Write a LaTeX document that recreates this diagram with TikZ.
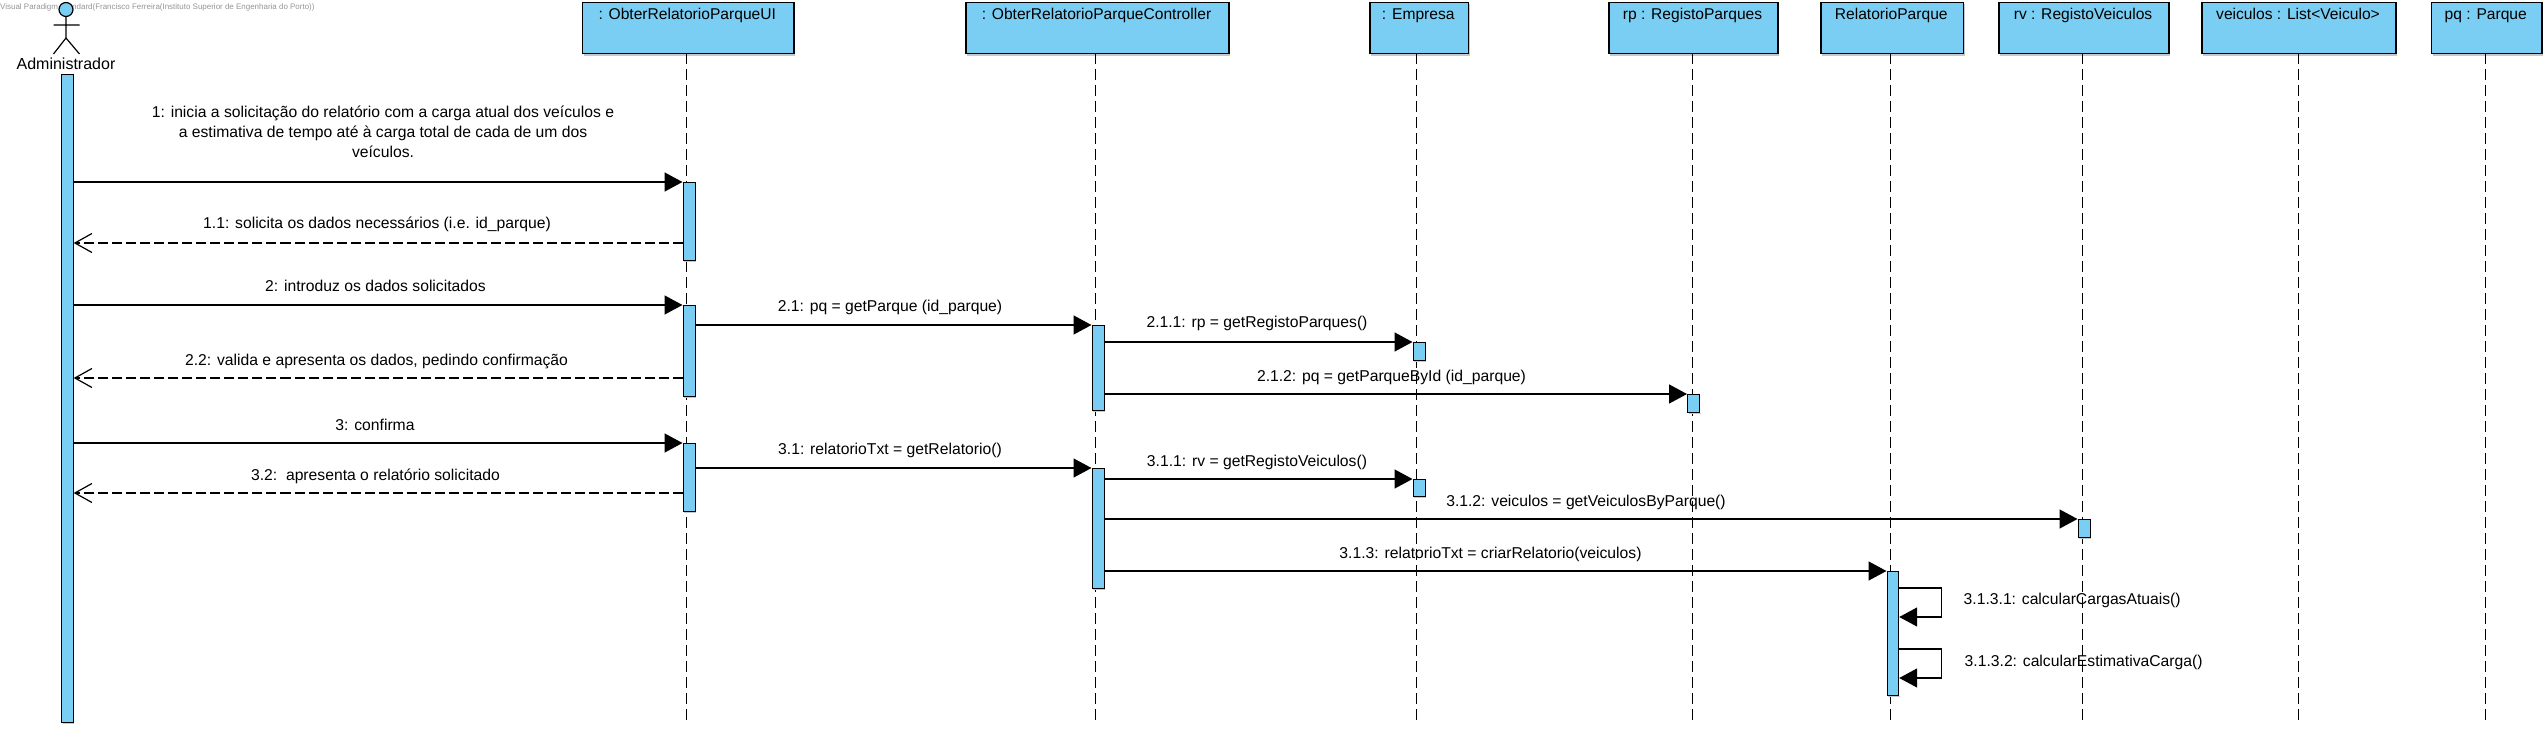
\documentclass[tikz,border=0pt]{standalone}
\usepackage{fontspec}
\setmainfont{Liberation Sans}
\usetikzlibrary{arrows.meta}
\definecolor{vpblue}{HTML}{7ACEF4}
\definecolor{vpshadow}{HTML}{C8C8C8}
\tikzset{
  objbox/.style={draw=black,line width=1.5bp,fill=vpblue,inner sep=0pt,anchor=north west},
  objtxt/.style={font=\fontsize{15.6bp}{18bp}\selectfont,anchor=base,inner sep=0pt},
  lifeline/.style={draw=black,line width=1.5bp,dash pattern=on 11bp off 5bp},
  activ/.style={draw=black,line width=1.2bp,fill=vpblue,inner sep=0pt,anchor=north west},
  call/.style={draw=black,line width=1.5bp,-{Triangle[length=18bp,width=19bp,fill=black]}},
  reply/.style={draw=black,line width=1.5bp,dash pattern=on 10bp off 4bp,-{Straight Barb[length=17bp,width=19bp,line width=1.2bp]}},
  msg/.style={font=\fontsize{15.7bp}{20bp}\selectfont,inner sep=0pt,align=center,anchor=base},
  shadowline/.style={draw=vpshadow,line width=1.2bp}
}
\newcommand{\objbx}[5]{% name, x1, x2, lifeline x, label
  \draw[shadowline] (#2+2,55) -- (#3+1.5,55) -- (#3+1.5,4);
  \node[objbox,minimum width=#3bp-#2bp,minimum height=51bp] (#1) at (#2,2) {};
  \node[objtxt] (#1t) at ({(#2+#3)/2},19.5) {#5};
  \coordinate (#1top) at (#4,53);
  \coordinate (#1bot) at (#4,724);
  \draw[lifeline] (#1top) -- (#1bot);
}
\newcommand{\actv}[5]{% name, x1, x2, y1, y2
  \draw[vpshadow,line width=1bp] (#2+1.5,#5+1.5) -- (#3+1.5,#5+1.5);
  \node[activ,minimum width=#3bp-#2bp,minimum height=#5bp-#4bp] (#1) at (#2,#4) {};
}
\begin{document}
\begin{tikzpicture}[x=1bp,y=-1bp]
\useasboundingbox (0,0) rectangle (2547,730);
\node[font=\fontsize{8}{9}\selectfont,text=black!42,inner sep=0pt,anchor=west] (wm) at (0,7.5) {Visual Paradigm Standard(Francisco Ferreira(Instituto Superior de Engenharia do Porto))};
% actor
\coordinate (hip) at (66,38);
\node[circle,draw=black,line width=1.2bp,fill=vpblue,minimum size=14bp,inner sep=0pt] (head) at (66,9.5) {};
\coordinate (armL) at (53.5,25); \coordinate (armR) at (79.5,25);
\coordinate (legL) at (53.5,54); \coordinate (legR) at (79.5,54);
\draw[line width=1.2bp] (head.south) -- (hip) (armL) -- (armR) (legL) -- (hip) -- (legR);
\node[font=\fontsize{16bp}{18bp}\selectfont,inner sep=0pt,anchor=base] (admin) at (66,69.5) {Administrador};
% lifelines and heads
\objbx{ui}{581.5}{793}{686.5}{: ObterRelatorioParqueUI}
\objbx{ctl}{965}{1228}{1095.5}{: ObterRelatorioParqueController}
\objbx{emp}{1369}{1467.5}{1416.5}{: Empresa}
\objbx{rp}{1608}{1777}{1692.5}{rp : RegistoParques}
\objbx{rel}{1820}{1962.5}{1890.5}{RelatorioParque}
\objbx{rv}{1998}{2168}{2082.5}{rv : RegistoVeiculos}
\objbx{vei}{2201}{2395}{2298.5}{veiculos : List<Veiculo>}
\objbx{pq}{2430.5}{2541}{2485.5}{pq : Parque}
% activations
\actv{aAdm}{61}{72.5}{74}{722}
\actv{aU1}{682.5}{694.5}{182}{260}
\actv{aU2}{682.5}{694.5}{305}{396}
\actv{aU3}{682.5}{694.5}{443}{511}
\actv{aC1}{1091.5}{1103.5}{325}{410}
\actv{aC2}{1091.5}{1103.5}{468}{588}
\actv{aE1}{1412.5}{1424.5}{342}{360}
\actv{aE2}{1412.5}{1424.5}{479}{496}
\actv{aR1}{1687}{1699}{394}{412}
\actv{aV1}{2077.5}{2089.5}{519}{537}
\actv{aL}{1886.5}{1898}{571}{695}
% messages
\draw[call] (aAdm.east|-aU1.north west) -- (aU1.north west);
\draw[reply] (aU1.west|-0,243) -- (aAdm.east|-0,243);
\draw[call] (aAdm.east|-aU2.north west) -- (aU2.north west);
\draw[reply] (aU2.west|-0,378) -- (aAdm.east|-0,378);
\draw[call] (aAdm.east|-aU3.north west) -- (aU3.north west);
\draw[reply] (aU3.west|-0,493) -- (aAdm.east|-0,493);
\draw[call] (aU2.east|-aC1.north west) -- (aC1.north west);
\draw[call] (aU3.east|-aC2.north west) -- (aC2.north west);
\draw[call] (aC1.east|-aE1.north west) -- (aE1.north west);
\draw[call] (aC1.east|-aR1.north west) -- (aR1.north west);
\draw[call] (aC2.east|-aE2.north west) -- (aE2.north west);
\draw[call] (aC2.east|-aV1.north west) -- (aV1.north west);
\draw[call] (aC2.east|-aL.north west) -- (aL.north west);
\coordinate (s1a) at (1941.5,588); \coordinate (s1b) at (1941.5,617);
\coordinate (s2a) at (1941.5,649); \coordinate (s2b) at (1941.5,678);
\draw[call] (aL.east|-s1a) -- (s1a) -- (s1b) -- (aL.east|-s1b);
\draw[call] (aL.east|-s2a) -- (s2a) -- (s2b) -- (aL.east|-s2b);
% labels
\node[msg] (m1) at (383,158) {1: inicia a solicitação do relatório com a carga atual dos veículos e\\a estimativa de tempo até à carga total de cada de um dos\\veículos.};
\node[msg] (m11) at (377,228.5) {1.1: solicita os dados necessários (i.e. id\_parque)};
\node[msg] (m2) at (375.5,291.5) {2: introduz os dados solicitados};
\node[msg] (m22) at (376.5,365.5) {2.2: valida e apresenta os dados, pedindo confirmação};
\node[msg] (m3) at (375,430.5) {3: confirma};
\node[msg] (m32) at (375.5,480.5) {3.2:\ \ apresenta o relatório solicitado};
\node[msg] (m21) at (890,311.5) {2.1: pq = getParque (id\_parque)};
\node[msg] (m31) at (890,454.5) {3.1: relatorioTxt = getRelatorio()};
\node[msg] (m211) at (1257,327.5) {2.1.1: rp = getRegistoParques()};
\node[msg] (m212) at (1391.5,381.5) {2.1.2: pq = getParqueById (id\_parque)};
\node[msg] (m311) at (1257,466.5) {3.1.1: rv = getRegistoVeiculos()};
\node[msg] (m312) at (1586,506.5) {3.1.2: veiculos = getVeiculosByParque()};
\node[msg] (m313) at (1490.5,558.5) {3.1.3: relatorioTxt = criarRelatorio(veiculos)};
\node[msg,anchor=base west] (m3131) at (1963.5,604.5) {3.1.3.1: calcularCargasAtuais()};
\node[msg,anchor=base west] (m3132) at (1964.5,666.5) {3.1.3.2: calcularEstimativaCarga()};
\end{tikzpicture}
\end{document}
